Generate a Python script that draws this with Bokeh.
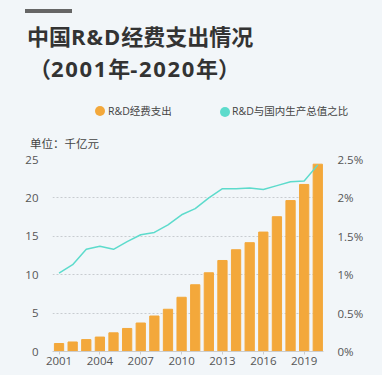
from bokeh.plotting import figure
from bokeh.models import (Range1d, LinearAxis, FixedTicker, CustomJSTickFormatter, Div)
from bokeh.layouts import column
from bokeh.embed import file_html
from bokeh.resources import INLINE

years = list(range(2001, 2021))
spend = [1.04, 1.24, 1.55, 1.88, 2.43, 3.00, 3.71, 4.62, 5.50, 7.06,
         8.69, 10.25, 11.85, 13.25, 14.17, 15.55, 17.55, 19.65, 21.75, 24.39]
ratio = [1.02, 1.13, 1.33, 1.37, 1.33, 1.43, 1.52, 1.55, 1.65, 1.78,
         1.86, 2.00, 2.12, 2.12, 2.13, 2.11, 2.16, 2.21, 2.22, 2.43]
left_ticks = [0, 5, 10, 15, 20, 25]
right_ticks = [0, 0.5, 1, 1.5, 2, 2.5]
x_ticks = [2001, 2004, 2007, 2010, 2013, 2016, 2019]

title1 = "中国R&D经费支出情况"
title2 = "（2001年-2020年）"
leg1 = "R&D经费支出"
leg2 = "R&D与国内生产总值之比"
unit = "单位：千亿元"

BG = "#f2f6f9"
ORANGE = "#f3a83b"
TEAL = "#5ddbcc"
FONT = "Open Sans, Noto Sans CJK SC"
CSSFONT = "'Open Sans','Noto Sans CJK SC',sans-serif"

HEAD_H = 149

def esc(s):
    return s.replace("&", "&amp;")

def wide_latin(s, sp):
    # add a little letter spacing to Latin characters / digits
    out = []
    for ch in s:
        if ord(ch) < 128:
            out.append(f"<span style='letter-spacing:{sp}px'>{esc(ch)}</span>")
        else:
            out.append(ch)
    return "".join(out)

def block(html, left, top, size, color="#333333", bold=False):
    w = "bold" if bold else "normal"
    return (f"<div style='position:absolute;left:{left}px;top:{top}px;font-size:{size}px;"
            f"line-height:1;white-space:nowrap;color:{color};font-weight:{w}'>{html}</div>")

def dot(cx, cy, d, color):
    return (f"<div style='position:absolute;left:{cx - d/2}px;top:{cy - d/2}px;width:{d}px;"
            f"height:{d}px;border-radius:50%;background:{color}'></div>")

head_html = (
    f"<div style=\"position:relative;width:382px;height:{HEAD_H}px;background:{BG};"
    f"font-family:{CSSFONT};\">"
    f"<div style='position:absolute;left:25px;top:9px;width:47px;height:3.5px;background:#666666'></div>"
    + block(wide_latin(title1, 1), 27, 25, 22, bold=True)
    + block(wide_latin(title2, 1.7), 29, 57, 22, bold=True)
    + dot(100, 111, 10, ORANGE)
    + block(esc(leg1), 108, 105.5, 10.5, color="#444444")
    + dot(224.5, 111.5, 10, TEAL)
    + block(esc(leg2), 232, 105.5, 10.5, color="#444444")
    + block(unit, 30, 138, 11.5, color="#444444")
    + "</div>"
)
head = Div(text=head_html, width=382, height=HEAD_H, margin=0,
           styles={"background-color": BG})

p = figure(width=382, height=375 - HEAD_H, output_backend="svg", toolbar_location=None,
           x_range=Range1d(2000.52, 2020.42), y_range=Range1d(0, 25),
           min_border_left=52, min_border_right=59, min_border_top=159 - HEAD_H,
           min_border_bottom=24, margin=0)
p.background_fill_color = BG
p.border_fill_color = BG
p.outline_line_color = None
p.extra_y_ranges = {"pct": Range1d(0, 2.5)}

p.vbar(x=years, top=spend, width=0.68, color=ORANGE)
p.line(x=years, y=ratio, y_range_name="pct", color=TEAL, line_width=1.5)

p.xgrid.visible = False
p.ygrid.grid_line_color = "#c8ccd0"
p.ygrid.grid_line_dash = "2 2"
p.ygrid.grid_line_width = 1
p.ygrid.ticker = FixedTicker(ticks=left_ticks)

ya = p.yaxis[0]
ya.ticker = FixedTicker(ticks=left_ticks)
ya.axis_line_color = None
ya.major_tick_line_color = None
ya.minor_tick_line_color = None
ya.major_label_standoff = 8
ya.major_label_text_font = FONT
ya.major_label_text_font_size = "11.5px"
ya.major_label_text_color = "#555555"

ra = LinearAxis(y_range_name="pct", ticker=FixedTicker(ticks=right_ticks),
                formatter=CustomJSTickFormatter(code="return tick + '%';"))
ra.axis_line_color = None
ra.major_tick_line_color = None
ra.minor_tick_line_color = None
ra.major_label_standoff = 8
ra.major_label_text_font = FONT
ra.major_label_text_font_size = "11.5px"
ra.major_label_text_color = "#555555"
p.add_layout(ra, "right")

xa = p.xaxis[0]
xa.ticker = FixedTicker(ticks=x_ticks)
xa.axis_line_color = "#cccccc"
xa.major_tick_line_color = "#cccccc"
xa.major_tick_in = 0
xa.major_tick_out = 3
xa.minor_tick_line_color = None
xa.major_label_standoff = 2
xa.major_label_text_font = FONT
xa.major_label_text_font_size = "11.5px"
xa.major_label_text_color = "#555555"

layout = column(head, p, spacing=0, margin=0, width=382, height=375,
                styles={"background-color": BG})

open("out.html", "w").write(file_html(layout, INLINE))
